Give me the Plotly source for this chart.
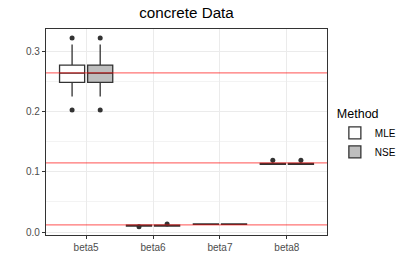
import plotly.graph_objects as go

categories = ["beta5", "beta6", "beta7", "beta8"]
methods = ["MLE", "NSE"]

# box statistics per method (per category)
mle_q1 = [0.249, 0.0100, 0.0126, 0.1127]
mle_med = [0.2645, 0.0106, 0.0130, 0.1135]
mle_q3 = [0.278, 0.0112, 0.0134, 0.1143]
mle_lo = [0.2255, 0.0095, 0.0121, 0.1115]
mle_hi = [0.312, 0.0118, 0.0139, 0.1160]

nse_q1 = [0.249, 0.0100, 0.0126, 0.1127]
nse_med = [0.2645, 0.0106, 0.0130, 0.1135]
nse_q3 = [0.278, 0.0112, 0.0134, 0.1143]
nse_lo = [0.2255, 0.0095, 0.0121, 0.1115]
nse_hi = [0.312, 0.0118, 0.0139, 0.1160]

# outliers
mle_out_cat = ["beta5", "beta5", "beta6", "beta8"]
mle_out_val = [0.323, 0.203, 0.0086, 0.1195]
nse_out_cat = ["beta5", "beta5", "beta6", "beta8"]
nse_out_val = [0.323, 0.203, 0.0132, 0.1195]

# true values (reference lines)
true_values = [0.265, 0.115, 0.0117]

fills = {"MLE": "#ffffff", "NSE": "#bebebe"}
dodge = {"MLE": -0.21, "NSE": 0.21}
box_width = 0.375
outline = "#333333"

stats = {
    "MLE": (mle_q1, mle_med, mle_q3, mle_lo, mle_hi, mle_out_cat, mle_out_val),
    "NSE": (nse_q1, nse_med, nse_q3, nse_lo, nse_hi, nse_out_cat, nse_out_val),
}

fig = go.Figure()
for m in methods:
    q1, med, q3, lo, hi, oc, ov = stats[m]
    xs = [i + 1 + dodge[m] for i in range(len(categories))]
    fig.add_trace(go.Box(
        name=m, x=xs, q1=q1, median=med, q3=q3, lowerfence=lo, upperfence=hi,
        width=box_width, boxpoints=False, whiskerwidth=0,
        fillcolor=fills[m], line=dict(color=outline, width=1.3),
        showlegend=True,
    ))
    ox = [categories.index(c) + 1 + dodge[m] for c in oc]
    fig.add_trace(go.Scatter(
        x=ox, y=ov, mode="markers", showlegend=False, hoverinfo="skip",
        marker=dict(color=outline, size=5),
    ))

for v in true_values:
    fig.add_shape(type="line", xref="paper", x0=0, x1=1, yref="y", y0=v, y1=v,
                  line=dict(color="rgba(255,0,0,0.55)", width=1.3), layer="above")

fig.update_layout(
    width=415, height=277,
    margin=dict(l=46, r=88, t=29, b=42),
    paper_bgcolor="white", plot_bgcolor="white",
    font=dict(family="Liberation Sans, Arial, sans-serif", color="#4d4d4d", size=10),
    title=dict(text="concrete Data", x=(46 + 327) / 2 / 415, xanchor="center",
               y=1 - 13 / 277, yanchor="middle",
               font=dict(size=15.2, color="black")),
    boxmode="overlay",
    legend=dict(title=dict(text="Method", font=dict(size=12.5, color="black")),
                x=1.028, xanchor="left", y=0.645, yanchor="top",
                font=dict(size=10, color="black"), bgcolor="rgba(0,0,0,0)",
                tracegroupgap=2),
    xaxis=dict(range=[0.4, 4.6], tickmode="array",
               tickvals=[i + 1 for i in range(len(categories))], ticktext=categories,
               showgrid=True, gridcolor="#ebebeb", gridwidth=1,
               showline=True, linecolor="#333333", linewidth=1.2, mirror=True,
               ticks="outside", ticklen=3, tickcolor="#333333", zeroline=False),
    yaxis=dict(range=[-0.005, 0.338], tickmode="array",
               tickvals=[0.0, 0.1, 0.2, 0.3], ticktext=["0.0", "0.1", "0.2", "0.3"],
               showgrid=True, gridcolor="#ebebeb", gridwidth=1,
               minor=dict(tickmode="array", tickvals=[0.05, 0.15, 0.25],
                          showgrid=True, gridcolor="#f3f3f3", gridwidth=0.6),
               showline=True, linecolor="#333333", linewidth=1.2, mirror=True,
               ticks="outside", ticklen=3, tickcolor="#333333", zeroline=False),
)

fig.write_html("out.html", config={"displayModeBar": False},
               post_script="document.body.style.margin='0';")
